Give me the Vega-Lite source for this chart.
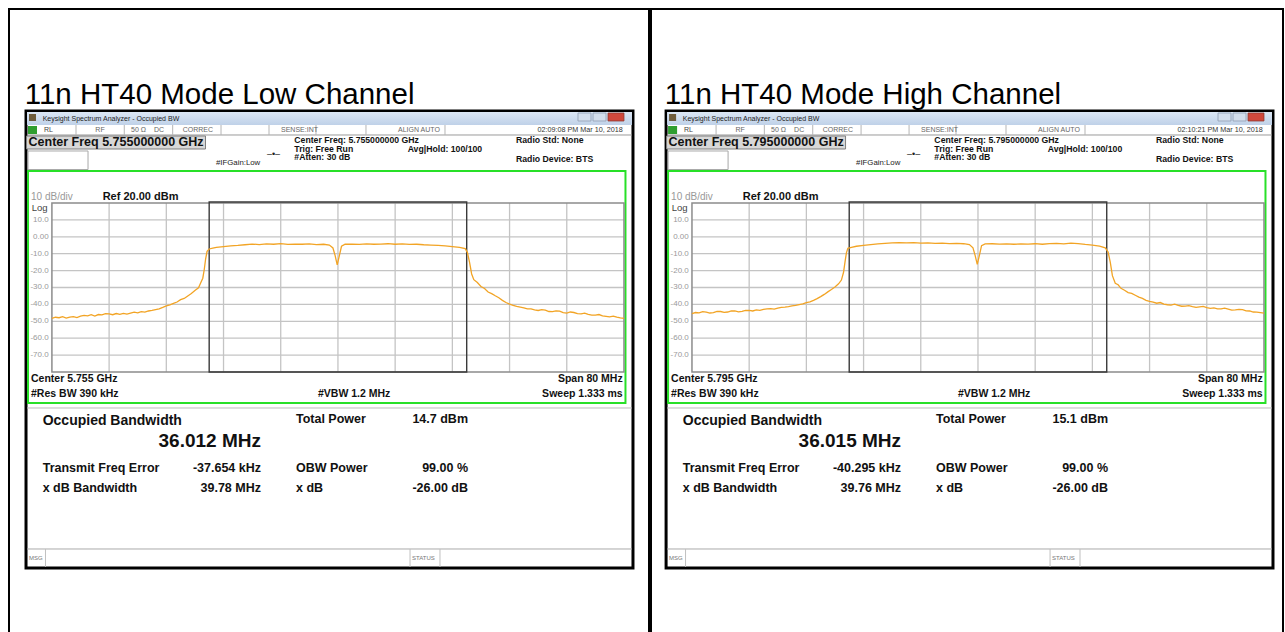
{
"$schema": "https://vega.github.io/schema/vega-lite/v6.json",
"padding": {"left": 8, "top": 8, "right": 5, "bottom": 0},
"spacing": 0,
"config": {"view": {"stroke": "#000", "strokeWidth": 2}, "axis": {"disable": true}, "font": "Liberation Sans", "mark": {"clip": false}},
"datasets": {
 "one": [{}],
 "low": [
  {"freq":5715,"db":-48.3},{"freq":5715.5,"db":-47.6},{"freq":5716,"db":-47.9},{"freq":5716.5,"db":-47.3},{"freq":5717,"db":-48.1},{"freq":5717.5,"db":-47.5},{"freq":5718,"db":-47.2},{"freq":5718.5,"db":-47.8},{"freq":5719,"db":-47.0},{"freq":5719.5,"db":-46.5},{"freq":5720,"db":-46.8},{"freq":5720.5,"db":-46.1},{"freq":5721,"db":-46.9},{"freq":5721.5,"db":-46.0},{"freq":5722,"db":-46.2},{"freq":5722.5,"db":-45.5},{"freq":5723,"db":-45.6},{"freq":5723.5,"db":-46.1},{"freq":5724,"db":-45.4},{"freq":5724.5,"db":-45.9},{"freq":5725,"db":-45.3},{"freq":5725.5,"db":-45.8},{"freq":5726,"db":-45.2},{"freq":5726.5,"db":-44.6},{"freq":5727,"db":-45.0},{"freq":5727.5,"db":-44.3},{"freq":5728,"db":-44.6},{"freq":5728.5,"db":-43.9},{"freq":5729,"db":-43.6},{"freq":5729.5,"db":-43.1},{"freq":5730,"db":-42.6},{"freq":5730.5,"db":-41.8},{"freq":5731,"db":-40.9},{"freq":5731.5,"db":-40.3},{"freq":5732,"db":-39.4},{"freq":5732.5,"db":-38.6},{"freq":5733,"db":-37.2},{"freq":5733.5,"db":-36.5},{"freq":5734,"db":-35.0},{"freq":5734.5,"db":-33.6},{"freq":5735,"db":-31.8},{"freq":5735.5,"db":-30.2},{"freq":5735.8,"db":-27.4},{"freq":5736.1,"db":-24.5},{"freq":5736.3,"db":-19.5},{"freq":5736.5,"db":-13.0},{"freq":5736.7,"db":-8.6},{"freq":5737,"db":-7.2},{"freq":5737.5,"db":-6.7},{"freq":5738,"db":-6.2},{"freq":5739,"db":-5.8},{"freq":5740,"db":-5.4},{"freq":5741,"db":-5.1},{"freq":5742,"db":-4.7},{"freq":5743,"db":-4.3},{"freq":5744,"db":-4.6},{"freq":5745,"db":-4.2},{"freq":5746,"db":-4.4},{"freq":5747,"db":-4.1},{"freq":5748,"db":-4.5},{"freq":5749,"db":-4.3},{"freq":5750,"db":-4.4},{"freq":5751,"db":-4.2},{"freq":5752,"db":-4.6},{"freq":5753,"db":-4.4},{"freq":5753.8,"db":-4.9},{"freq":5754.3,"db":-6.6},{"freq":5754.6,"db":-11.0},{"freq":5754.9,"db":-16.6},{"freq":5755.2,"db":-11.2},{"freq":5755.5,"db":-5.6},{"freq":5756,"db":-4.4},{"freq":5757,"db":-4.3},{"freq":5758,"db":-4.5},{"freq":5759,"db":-4.2},{"freq":5760,"db":-4.4},{"freq":5761,"db":-4.3},{"freq":5762,"db":-4.1},{"freq":5763,"db":-4.4},{"freq":5764,"db":-4.2},{"freq":5765,"db":-4.5},{"freq":5766,"db":-4.4},{"freq":5767,"db":-4.7},{"freq":5768,"db":-4.9},{"freq":5769,"db":-5.1},{"freq":5770,"db":-5.4},{"freq":5771,"db":-5.8},{"freq":5772,"db":-6.3},{"freq":5772.8,"db":-7.0},{"freq":5773.1,"db":-9.2},{"freq":5773.4,"db":-15.0},{"freq":5773.7,"db":-22.0},{"freq":5774,"db":-25.4},{"freq":5774.5,"db":-27.1},{"freq":5775,"db":-29.4},{"freq":5775.5,"db":-30.6},{"freq":5776,"db":-32.7},{"freq":5776.5,"db":-33.6},{"freq":5777,"db":-34.9},{"freq":5777.5,"db":-36.1},{"freq":5778,"db":-37.6},{"freq":5778.5,"db":-38.9},{"freq":5779,"db":-39.8},{"freq":5779.5,"db":-40.6},{"freq":5780,"db":-41.2},{"freq":5780.5,"db":-41.6},{"freq":5781,"db":-42.0},{"freq":5781.5,"db":-42.7},{"freq":5782,"db":-42.6},{"freq":5782.5,"db":-43.3},{"freq":5783,"db":-43.6},{"freq":5783.5,"db":-43.1},{"freq":5784,"db":-43.4},{"freq":5784.5,"db":-44.2},{"freq":5785,"db":-44.3},{"freq":5785.5,"db":-43.8},{"freq":5786,"db":-44.0},{"freq":5786.5,"db":-44.9},{"freq":5787,"db":-45.2},{"freq":5787.5,"db":-44.5},{"freq":5788,"db":-44.8},{"freq":5788.5,"db":-45.4},{"freq":5789,"db":-45.6},{"freq":5789.5,"db":-45.2},{"freq":5790,"db":-45.9},{"freq":5790.5,"db":-46.4},{"freq":5791,"db":-46.3},{"freq":5791.5,"db":-46.0},{"freq":5792,"db":-46.8},{"freq":5792.5,"db":-47.1},{"freq":5793,"db":-47.4},{"freq":5793.5,"db":-47.0},{"freq":5794,"db":-47.6},{"freq":5794.5,"db":-48.0},{"freq":5795,"db":-48.3}
 ],
 "high": [
  {"freq":5755,"db":-45.4},{"freq":5755.5,"db":-44.8},{"freq":5756,"db":-45.0},{"freq":5756.5,"db":-44.3},{"freq":5757,"db":-44.6},{"freq":5757.5,"db":-45.1},{"freq":5758,"db":-44.9},{"freq":5758.5,"db":-44.1},{"freq":5759,"db":-44.2},{"freq":5759.5,"db":-44.7},{"freq":5760,"db":-44.5},{"freq":5760.5,"db":-43.8},{"freq":5761,"db":-43.9},{"freq":5761.5,"db":-44.4},{"freq":5762,"db":-44.1},{"freq":5762.5,"db":-43.5},{"freq":5763,"db":-43.6},{"freq":5763.5,"db":-43.9},{"freq":5764,"db":-43.2},{"freq":5764.5,"db":-43.5},{"freq":5765,"db":-42.9},{"freq":5765.5,"db":-42.6},{"freq":5766,"db":-42.5},{"freq":5766.5,"db":-42.8},{"freq":5767,"db":-42.2},{"freq":5767.5,"db":-41.8},{"freq":5768,"db":-41.6},{"freq":5768.5,"db":-41.3},{"freq":5769,"db":-40.9},{"freq":5769.5,"db":-40.6},{"freq":5770,"db":-40.1},{"freq":5770.5,"db":-39.7},{"freq":5771,"db":-39.0},{"freq":5771.5,"db":-38.5},{"freq":5772,"db":-37.6},{"freq":5772.5,"db":-36.6},{"freq":5773,"db":-35.4},{"freq":5773.5,"db":-34.1},{"freq":5774,"db":-32.6},{"freq":5774.5,"db":-31.2},{"freq":5775,"db":-29.7},{"freq":5775.5,"db":-27.8},{"freq":5775.9,"db":-25.6},{"freq":5776.2,"db":-21.0},{"freq":5776.4,"db":-15.0},{"freq":5776.6,"db":-9.5},{"freq":5776.8,"db":-6.8},{"freq":5777.3,"db":-6.2},{"freq":5778,"db":-5.6},{"freq":5779,"db":-5.1},{"freq":5780,"db":-4.6},{"freq":5781,"db":-4.2},{"freq":5782,"db":-3.9},{"freq":5783,"db":-3.6},{"freq":5784,"db":-3.4},{"freq":5785,"db":-3.6},{"freq":5786,"db":-3.5},{"freq":5787,"db":-3.8},{"freq":5788,"db":-3.6},{"freq":5789,"db":-3.9},{"freq":5790,"db":-3.8},{"freq":5791,"db":-4.0},{"freq":5792,"db":-3.9},{"freq":5793,"db":-4.1},{"freq":5793.8,"db":-4.6},{"freq":5794.3,"db":-6.5},{"freq":5794.6,"db":-11.0},{"freq":5794.9,"db":-16.3},{"freq":5795.2,"db":-11.0},{"freq":5795.5,"db":-5.2},{"freq":5796,"db":-4.2},{"freq":5797,"db":-4.1},{"freq":5798,"db":-4.3},{"freq":5799,"db":-4.2},{"freq":5800,"db":-4.4},{"freq":5801,"db":-4.2},{"freq":5802,"db":-4.3},{"freq":5803,"db":-4.1},{"freq":5804,"db":-4.4},{"freq":5805,"db":-4.0},{"freq":5806,"db":-3.9},{"freq":5807,"db":-4.2},{"freq":5808,"db":-3.8},{"freq":5809,"db":-4.0},{"freq":5810,"db":-4.5},{"freq":5811,"db":-4.9},{"freq":5812,"db":-5.5},{"freq":5812.8,"db":-6.5},{"freq":5813.2,"db":-9.0},{"freq":5813.5,"db":-15.0},{"freq":5813.8,"db":-23.0},{"freq":5814.2,"db":-27.5},{"freq":5814.6,"db":-28.4},{"freq":5815,"db":-30.5},{"freq":5815.5,"db":-31.6},{"freq":5816,"db":-33.0},{"freq":5816.5,"db":-33.5},{"freq":5817,"db":-34.6},{"freq":5817.5,"db":-35.7},{"freq":5818,"db":-36.4},{"freq":5818.5,"db":-37.6},{"freq":5819,"db":-38.2},{"freq":5819.5,"db":-38.6},{"freq":5820,"db":-39.3},{"freq":5820.5,"db":-38.9},{"freq":5821,"db":-39.8},{"freq":5821.5,"db":-40.2},{"freq":5822,"db":-40.4},{"freq":5822.5,"db":-39.9},{"freq":5823,"db":-40.6},{"freq":5823.5,"db":-41.1},{"freq":5824,"db":-41.0},{"freq":5824.5,"db":-40.7},{"freq":5825,"db":-41.3},{"freq":5825.5,"db":-41.8},{"freq":5826,"db":-41.5},{"freq":5826.5,"db":-41.2},{"freq":5827,"db":-41.9},{"freq":5827.5,"db":-42.3},{"freq":5828,"db":-42.1},{"freq":5828.5,"db":-42.7},{"freq":5829,"db":-42.6},{"freq":5829.5,"db":-42.2},{"freq":5830,"db":-42.8},{"freq":5830.5,"db":-43.4},{"freq":5831,"db":-43.3},{"freq":5831.5,"db":-42.9},{"freq":5832,"db":-43.1},{"freq":5832.5,"db":-43.8},{"freq":5833,"db":-43.9},{"freq":5833.5,"db":-44.5},{"freq":5834,"db":-44.6},{"freq":5834.5,"db":-44.9},{"freq":5835,"db":-45.2}
 ],
 "hgrid": [{"db":10},{"db":0},{"db":-10},{"db":-20},{"db":-30},{"db":-40},{"db":-50},{"db":-60},{"db":-70}],
 "vgridLow": [{"freq":5723},{"freq":5731},{"freq":5739},{"freq":5747},{"freq":5755},{"freq":5763},{"freq":5771},{"freq":5779},{"freq":5787}],
 "vgridHigh": [{"freq":5763},{"freq":5771},{"freq":5779},{"freq":5787},{"freq":5795},{"freq":5803},{"freq":5811},{"freq":5819},{"freq":5827}],
 "ylabels": [{"db":10,"label":"10.0"},{"db":0,"label":"0.00"},{"db":-10,"label":"-10.0"},{"db":-20,"label":"-20.0"},{"db":-30,"label":"-30.0"},{"db":-40,"label":"-40.0"},{"db":-50,"label":"-50.0"},{"db":-60,"label":"-60.0"},{"db":-70,"label":"-70.0"}]
},
"hconcat": [
 {
  "width": 640, "height": 625,
  "data": {"name": "one"},
  "layer": [
   {"mark":{"type":"rect","fill":"#ffffff","stroke":"#000000","strokeWidth":3},"encoding":{"x":{"datum":5711.38,"scale":{"domain":[5709,5798.5],"nice":false,"zero":false}},"x2":{"datum":5796.26},"y":{"datum":74.44,"scale":{"domain":[-235.03,134.79],"nice":false,"zero":false}},"y2":{"datum":-195.98}}},
   {"mark":{"type":"text","text":"11n HT40 Mode Low Channel","align":"left","baseline":"middle","fontSize":29.5,"fill":"#000"},"encoding":{"x":{"datum":5711.2},"y":{"datum":83.91}}},
   {"mark":{"type":"rect","fill":{"gradient":"linear","x1":0,"y1":0,"x2":0,"y2":1,"stops":[{"offset":0,"color":"#dce7f5"},{"offset":1,"color":"#bfd1e8"}]}},"encoding":{"x":{"datum":5711.52},"x2":{"datum":5796.12},"y":{"datum":73.85},"y2":{"datum":66.15}}},
   {"mark":{"type":"rect","fill":"#6d5b3b"},"encoding":{"x":{"datum":5711.8},"x2":{"datum":5712.78},"y":{"datum":72.66},"y2":{"datum":68.52}}},
   {"mark":{"type":"text","text":"Keysight Spectrum Analyzer - Occupied BW","align":"left","baseline":"middle","fontSize":7,"fill":"#222"},"encoding":{"x":{"datum":5713.71},"y":{"datum":69.7}}},
   {"mark":{"type":"rect","fill":"#d3deec","stroke":"#8e9db3","strokeWidth":0.8},"encoding":{"x":{"datum":5788.57},"x2":{"datum":5790.39},"y":{"datum":73.25},"y2":{"datum":68.52}}},
   {"mark":{"type":"rect","fill":"#d3deec","stroke":"#8e9db3","strokeWidth":0.8},"encoding":{"x":{"datum":5790.67},"x2":{"datum":5792.49},"y":{"datum":73.25},"y2":{"datum":68.52}}},
   {"mark":{"type":"rect","fill":"#d0483c","stroke":"#8e3a30","strokeWidth":0.8},"encoding":{"x":{"datum":5792.77},"x2":{"datum":5795.0},"y":{"datum":73.25},"y2":{"datum":68.52}}},
   {"mark":{"type":"rule","color":"#9a9a9a","strokeWidth":1},"encoding":{"x":{"datum":5711.52},"x2":{"datum":5796.12},"y":{"datum":60.24}}},
   {"mark":{"type":"rule","color":"#b5b5b5","strokeWidth":1},"encoding":{"x":{"datum":5718.37},"y":{"datum":66.15},"y2":{"datum":60.24}}},
   {"mark":{"type":"rule","color":"#b5b5b5","strokeWidth":1},"encoding":{"x":{"datum":5725.12},"y":{"datum":66.15},"y2":{"datum":60.24}}},
   {"mark":{"type":"rule","color":"#b5b5b5","strokeWidth":1},"encoding":{"x":{"datum":5731.89},"y":{"datum":66.15},"y2":{"datum":60.24}}},
   {"mark":{"type":"rule","color":"#b5b5b5","strokeWidth":1},"encoding":{"x":{"datum":5738.65},"y":{"datum":66.15},"y2":{"datum":60.24}}},
   {"mark":{"type":"rule","color":"#b5b5b5","strokeWidth":1},"encoding":{"x":{"datum":5745.36},"y":{"datum":66.15},"y2":{"datum":60.24}}},
   {"mark":{"type":"rule","color":"#b5b5b5","strokeWidth":1},"encoding":{"x":{"datum":5751.93},"y":{"datum":66.15},"y2":{"datum":60.24}}},
   {"mark":{"type":"rule","color":"#b5b5b5","strokeWidth":1},"encoding":{"x":{"datum":5758.92},"y":{"datum":66.15},"y2":{"datum":60.24}}},
   {"mark":{"type":"rule","color":"#b5b5b5","strokeWidth":1},"encoding":{"x":{"datum":5769.97},"y":{"datum":66.15},"y2":{"datum":60.24}}},
   {"mark":{"type":"rect","fill":"#2f9e2f"},"encoding":{"x":{"datum":5711.66},"x2":{"datum":5712.92},"y":{"datum":65.56},"y2":{"datum":60.83}}},
   {"mark":{"type":"text","text":"RL","align":"left","baseline":"middle","fontSize":7,"fill":"#444"},"encoding":{"x":{"datum":5713.89},"y":{"datum":63.2}}},
   {"mark":{"type":"text","text":"RF","align":"center","baseline":"middle","fontSize":7,"fill":"#666"},"encoding":{"x":{"datum":5721.73},"y":{"datum":63.2}}},
   {"mark":{"type":"text","text":"50 Ω","align":"left","baseline":"middle","fontSize":7,"fill":"#666"},"encoding":{"x":{"datum":5726.06},"y":{"datum":63.2}}},
   {"mark":{"type":"text","text":"DC","align":"left","baseline":"middle","fontSize":7,"fill":"#666"},"encoding":{"x":{"datum":5729.28},"y":{"datum":63.2}}},
   {"mark":{"type":"text","text":"CORREC","align":"left","baseline":"middle","fontSize":7,"fill":"#666"},"encoding":{"x":{"datum":5733.29},"y":{"datum":63.2}}},
   {"mark":{"type":"text","text":"SENSE:INT","align":"left","baseline":"middle","fontSize":7,"fill":"#666"},"encoding":{"x":{"datum":5747.04},"y":{"datum":63.2}}},
   {"mark":{"type":"text","text":"ALIGN AUTO","align":"left","baseline":"middle","fontSize":7,"fill":"#666"},"encoding":{"x":{"datum":5763.4},"y":{"datum":63.2}}},
   {"mark":{"type":"text","text":"02:09:08 PM Mar 10, 2018","align":"right","baseline":"middle","fontSize":7.2,"fill":"#333"},"encoding":{"x":{"datum":5794.82},"y":{"datum":63.2}}},
   {"mark":{"type":"rect","fill":"#d8d8d8","stroke":"#7f7f7f","strokeWidth":1},"encoding":{"x":{"datum":5711.45},"x2":{"datum":5736.48},"y":{"datum":59.64},"y2":{"datum":51.95}}},
   {"mark":{"type":"text","text":"Center Freq 5.755000000 GHz","align":"left","baseline":"middle","fontSize":12.5,"fontWeight":"bold","fill":"#111"},"encoding":{"x":{"datum":5711.73},"y":{"datum":55.8}}},
   {"mark":{"type":"rect","fill":"#ffffff","stroke":"#a8a8a8","strokeWidth":1},"encoding":{"x":{"datum":5711.66},"x2":{"datum":5720.05},"y":{"datum":50.77},"y2":{"datum":39.8}}},
   {"mark":{"type":"text","text":"#IFGain:Low","align":"left","baseline":"middle","fontSize":7.8,"fill":"#222"},"encoding":{"x":{"datum":5737.95},"y":{"datum":43.49}}},
   {"mark":{"type":"text","text":"–•–","align":"center","baseline":"middle","fontSize":9,"fill":"#222"},"encoding":{"x":{"datum":5745.99},"y":{"datum":48.82}}},
   {"mark":{"type":"text","text":"Center Freq: 5.755000000 GHz","align":"left","baseline":"middle","fontSize":8.7,"fontWeight":"bold","fill":"#111"},"encoding":{"x":{"datum":5748.9},"y":{"datum":57.1}}},
   {"mark":{"type":"text","text":"Trig: Free Run","align":"left","baseline":"middle","fontSize":8.7,"fontWeight":"bold","fill":"#111"},"encoding":{"x":{"datum":5748.9},"y":{"datum":52.13}}},
   {"mark":{"type":"text","text":"#Atten: 30 dB","align":"left","baseline":"middle","fontSize":8.7,"fontWeight":"bold","fill":"#111"},"encoding":{"x":{"datum":5748.9},"y":{"datum":47.22}}},
   {"mark":{"type":"text","text":"Avg|Hold: 100/100","align":"left","baseline":"middle","fontSize":8.7,"fontWeight":"bold","fill":"#111"},"encoding":{"x":{"datum":5764.75},"y":{"datum":52.13}}},
   {"mark":{"type":"text","text":"Radio Std: None","align":"left","baseline":"middle","fontSize":8.7,"fontWeight":"bold","fill":"#111"},"encoding":{"x":{"datum":5779.9},"y":{"datum":57.1}}},
   {"mark":{"type":"text","text":"Radio Device: BTS","align":"left","baseline":"middle","fontSize":8.7,"fontWeight":"bold","fill":"#111"},"encoding":{"x":{"datum":5779.9},"y":{"datum":45.86}}},
   {"mark":{"type":"rect","fill":null,"stroke":"#28e028","strokeWidth":2},"encoding":{"x":{"datum":5711.66},"x2":{"datum":5795.21},"y":{"datum":38.93},"y2":{"datum":-98.34}}},
   {"mark":{"type":"text","text":"10 dB/div","align":"left","baseline":"middle","fontSize":10,"fill":"#999"},"encoding":{"x":{"datum":5712.08},"y":{"datum":23.73}}},
   {"mark":{"type":"text","text":"Ref 20.00 dBm","align":"left","baseline":"middle","fontSize":11,"fontWeight":"bold","fill":"#111"},"encoding":{"x":{"datum":5722.1},"y":{"datum":23.73}}},
   {"data":{"name":"hgrid"},"mark":{"type":"rule","color":"#c4c4c4","strokeWidth":1.3},"encoding":{"y":{"field":"db","type":"quantitative"},"x":{"datum":5715},"x2":{"datum":5795}}},
   {"data":{"name":"vgridLow"},"mark":{"type":"rule","color":"#c4c4c4","strokeWidth":1.3},"encoding":{"x":{"field":"freq","type":"quantitative"},"y":{"datum":20},"y2":{"datum":-80}}},
   {"mark":{"type":"rect","fill":null,"stroke":"#8c8c8c","strokeWidth":1.5},"encoding":{"x":{"datum":5715},"x2":{"datum":5795},"y":{"datum":20},"y2":{"datum":-80}}},
   {"mark":{"type":"rect","fill":null,"stroke":"#3a3a3a","strokeWidth":1.4},"encoding":{"x":{"datum":5736.994},"x2":{"datum":5773.006},"y":{"datum":20.59},"y2":{"datum":-80}}},
   {"data":{"name":"low"},"mark":{"type":"line","color":"#f2a425","strokeWidth":1.3},"encoding":{"x":{"field":"freq","type":"quantitative"},"y":{"field":"db","type":"quantitative"}}},
   {"data":{"name":"ylabels"},"mark":{"type":"text","align":"right","baseline":"middle","fontSize":8,"fill":"#9a9a9a"},"encoding":{"y":{"field":"db","type":"quantitative"},"x":{"datum":5714.55},"text":{"field":"label"}}},
   {"mark":{"type":"text","text":"Log","align":"left","baseline":"middle","fontSize":9.5,"fill":"#444"},"encoding":{"x":{"datum":5712.17},"y":{"datum":17.22}}},
   {"mark":{"type":"text","text":"Center  5.755 GHz","align":"left","baseline":"middle","fontSize":10.5,"fontWeight":"bold","fill":"#111"},"encoding":{"x":{"datum":5712.08},"y":{"datum":-84.32}}},
   {"mark":{"type":"text","text":"#Res BW  390 kHz","align":"left","baseline":"middle","fontSize":10.5,"fontWeight":"bold","fill":"#111"},"encoding":{"x":{"datum":5712.08},"y":{"datum":-93.2}}},
   {"mark":{"type":"text","text":"#VBW  1.2 MHz","align":"left","baseline":"middle","fontSize":10.5,"fontWeight":"bold","fill":"#111"},"encoding":{"x":{"datum":5752.21},"y":{"datum":-93.2}}},
   {"mark":{"type":"text","text":"Span 80 MHz","align":"right","baseline":"middle","fontSize":10.5,"fontWeight":"bold","fill":"#111"},"encoding":{"x":{"datum":5794.82},"y":{"datum":-84.32}}},
   {"mark":{"type":"text","text":"Sweep  1.333 ms","align":"right","baseline":"middle","fontSize":10.5,"fontWeight":"bold","fill":"#111"},"encoding":{"x":{"datum":5794.82},"y":{"datum":-93.2}}},
   {"mark":{"type":"rule","color":"#bbbbbb","strokeWidth":1},"encoding":{"x":{"datum":5711.52},"x2":{"datum":5796.12},"y":{"datum":-101.3}}},
   {"mark":{"type":"text","text":"Occupied Bandwidth","align":"left","baseline":"middle","fontSize":14,"fontWeight":"bold","fill":"#111"},"encoding":{"x":{"datum":5713.71},"y":{"datum":-109.0}}},
   {"mark":{"type":"text","text":"36.012 MHz","align":"right","baseline":"middle","fontSize":19,"fontWeight":"bold","fill":"#111"},"encoding":{"x":{"datum":5744.24},"y":{"datum":-120.83}}},
   {"mark":{"type":"text","text":"Total Power","align":"left","baseline":"middle","fontSize":12.5,"fontWeight":"bold","fill":"#111"},"encoding":{"x":{"datum":5749.13},"y":{"datum":-107.99}}},
   {"mark":{"type":"text","text":"14.7 dBm","align":"right","baseline":"middle","fontSize":12.5,"fontWeight":"bold","fill":"#111"},"encoding":{"x":{"datum":5773.19},"y":{"datum":-107.99}}},
   {"mark":{"type":"text","text":"Transmit Freq Error","align":"left","baseline":"middle","fontSize":12.5,"fontWeight":"bold","fill":"#111"},"encoding":{"x":{"datum":5713.71},"y":{"datum":-136.63}}},
   {"mark":{"type":"text","text":"-37.654 kHz","align":"right","baseline":"middle","fontSize":12.5,"fontWeight":"bold","fill":"#111"},"encoding":{"x":{"datum":5744.24},"y":{"datum":-136.63}}},
   {"mark":{"type":"text","text":"OBW Power","align":"left","baseline":"middle","fontSize":12.5,"fontWeight":"bold","fill":"#111"},"encoding":{"x":{"datum":5749.13},"y":{"datum":-136.63}}},
   {"mark":{"type":"text","text":"99.00 %","align":"right","baseline":"middle","fontSize":12.5,"fontWeight":"bold","fill":"#111"},"encoding":{"x":{"datum":5773.19},"y":{"datum":-136.63}}},
   {"mark":{"type":"text","text":"x dB Bandwidth","align":"left","baseline":"middle","fontSize":12.5,"fontWeight":"bold","fill":"#111"},"encoding":{"x":{"datum":5713.71},"y":{"datum":-148.46}}},
   {"mark":{"type":"text","text":"39.78 MHz","align":"right","baseline":"middle","fontSize":12.5,"fontWeight":"bold","fill":"#111"},"encoding":{"x":{"datum":5744.24},"y":{"datum":-148.46}}},
   {"mark":{"type":"text","text":"x dB","align":"left","baseline":"middle","fontSize":12.5,"fontWeight":"bold","fill":"#111"},"encoding":{"x":{"datum":5749.13},"y":{"datum":-148.46}}},
   {"mark":{"type":"text","text":"-26.00 dB","align":"right","baseline":"middle","fontSize":12.5,"fontWeight":"bold","fill":"#111"},"encoding":{"x":{"datum":5773.19},"y":{"datum":-148.46}}},
   {"mark":{"type":"rule","color":"#aaaaaa","strokeWidth":1},"encoding":{"x":{"datum":5711.52},"x2":{"datum":5796.12},"y":{"datum":-184.73}}},
   {"mark":{"type":"rule","color":"#c0c0c0","strokeWidth":1},"encoding":{"x":{"datum":5714.1},"y":{"datum":-184.73},"y2":{"datum":-195.38}}},
   {"mark":{"type":"rule","color":"#c0c0c0","strokeWidth":1},"encoding":{"x":{"datum":5765.08},"y":{"datum":-184.73},"y2":{"datum":-195.38}}},
   {"mark":{"type":"rule","color":"#c0c0c0","strokeWidth":1},"encoding":{"x":{"datum":5769.27},"y":{"datum":-184.73},"y2":{"datum":-195.38}}},
   {"mark":{"type":"text","text":"MSG","align":"left","baseline":"middle","fontSize":6,"fill":"#777"},"encoding":{"x":{"datum":5711.8},"y":{"datum":-190.06}}},
   {"mark":{"type":"text","text":"STATUS","align":"left","baseline":"middle","fontSize":6,"fill":"#777"},"encoding":{"x":{"datum":5765.36},"y":{"datum":-190.06}}}
  ]
 },
 {
  "width": 632, "height": 625,
  "data": {"name": "one"},
  "layer": [
   {"mark":{"type":"rect","fill":"#ffffff","stroke":"#000000","strokeWidth":3},"encoding":{"x":{"datum":5751.38,"scale":{"domain":[5749.27,5837.66],"nice":false,"zero":false}},"x2":{"datum":5836.26},"y":{"datum":74.44,"scale":{"domain":[-235.03,134.79],"nice":false,"zero":false}},"y2":{"datum":-195.98}}},
   {"mark":{"type":"text","text":"11n HT40 Mode High Channel","align":"left","baseline":"middle","fontSize":29.5,"fill":"#000"},"encoding":{"x":{"datum":5751.2},"y":{"datum":83.91}}},
   {"mark":{"type":"rect","fill":{"gradient":"linear","x1":0,"y1":0,"x2":0,"y2":1,"stops":[{"offset":0,"color":"#dce7f5"},{"offset":1,"color":"#bfd1e8"}]}},"encoding":{"x":{"datum":5751.52},"x2":{"datum":5836.12},"y":{"datum":73.85},"y2":{"datum":66.15}}},
   {"mark":{"type":"rect","fill":"#6d5b3b"},"encoding":{"x":{"datum":5751.8},"x2":{"datum":5752.78},"y":{"datum":72.66},"y2":{"datum":68.52}}},
   {"mark":{"type":"text","text":"Keysight Spectrum Analyzer - Occupied BW","align":"left","baseline":"middle","fontSize":7,"fill":"#222"},"encoding":{"x":{"datum":5753.71},"y":{"datum":69.7}}},
   {"mark":{"type":"rect","fill":"#d3deec","stroke":"#8e9db3","strokeWidth":0.8},"encoding":{"x":{"datum":5828.57},"x2":{"datum":5830.39},"y":{"datum":73.25},"y2":{"datum":68.52}}},
   {"mark":{"type":"rect","fill":"#d3deec","stroke":"#8e9db3","strokeWidth":0.8},"encoding":{"x":{"datum":5830.67},"x2":{"datum":5832.49},"y":{"datum":73.25},"y2":{"datum":68.52}}},
   {"mark":{"type":"rect","fill":"#d0483c","stroke":"#8e3a30","strokeWidth":0.8},"encoding":{"x":{"datum":5832.77},"x2":{"datum":5835.0},"y":{"datum":73.25},"y2":{"datum":68.52}}},
   {"mark":{"type":"rule","color":"#9a9a9a","strokeWidth":1},"encoding":{"x":{"datum":5751.52},"x2":{"datum":5836.12},"y":{"datum":60.24}}},
   {"mark":{"type":"rule","color":"#b5b5b5","strokeWidth":1},"encoding":{"x":{"datum":5758.37},"y":{"datum":66.15},"y2":{"datum":60.24}}},
   {"mark":{"type":"rule","color":"#b5b5b5","strokeWidth":1},"encoding":{"x":{"datum":5765.12},"y":{"datum":66.15},"y2":{"datum":60.24}}},
   {"mark":{"type":"rule","color":"#b5b5b5","strokeWidth":1},"encoding":{"x":{"datum":5771.89},"y":{"datum":66.15},"y2":{"datum":60.24}}},
   {"mark":{"type":"rule","color":"#b5b5b5","strokeWidth":1},"encoding":{"x":{"datum":5778.65},"y":{"datum":66.15},"y2":{"datum":60.24}}},
   {"mark":{"type":"rule","color":"#b5b5b5","strokeWidth":1},"encoding":{"x":{"datum":5785.36},"y":{"datum":66.15},"y2":{"datum":60.24}}},
   {"mark":{"type":"rule","color":"#b5b5b5","strokeWidth":1},"encoding":{"x":{"datum":5791.93},"y":{"datum":66.15},"y2":{"datum":60.24}}},
   {"mark":{"type":"rule","color":"#b5b5b5","strokeWidth":1},"encoding":{"x":{"datum":5798.92},"y":{"datum":66.15},"y2":{"datum":60.24}}},
   {"mark":{"type":"rule","color":"#b5b5b5","strokeWidth":1},"encoding":{"x":{"datum":5809.97},"y":{"datum":66.15},"y2":{"datum":60.24}}},
   {"mark":{"type":"rect","fill":"#2f9e2f"},"encoding":{"x":{"datum":5751.66},"x2":{"datum":5752.92},"y":{"datum":65.56},"y2":{"datum":60.83}}},
   {"mark":{"type":"text","text":"RL","align":"left","baseline":"middle","fontSize":7,"fill":"#444"},"encoding":{"x":{"datum":5753.89},"y":{"datum":63.2}}},
   {"mark":{"type":"text","text":"RF","align":"center","baseline":"middle","fontSize":7,"fill":"#666"},"encoding":{"x":{"datum":5761.73},"y":{"datum":63.2}}},
   {"mark":{"type":"text","text":"50 Ω","align":"left","baseline":"middle","fontSize":7,"fill":"#666"},"encoding":{"x":{"datum":5766.06},"y":{"datum":63.2}}},
   {"mark":{"type":"text","text":"DC","align":"left","baseline":"middle","fontSize":7,"fill":"#666"},"encoding":{"x":{"datum":5769.28},"y":{"datum":63.2}}},
   {"mark":{"type":"text","text":"CORREC","align":"left","baseline":"middle","fontSize":7,"fill":"#666"},"encoding":{"x":{"datum":5773.29},"y":{"datum":63.2}}},
   {"mark":{"type":"text","text":"SENSE:INT","align":"left","baseline":"middle","fontSize":7,"fill":"#666"},"encoding":{"x":{"datum":5787.04},"y":{"datum":63.2}}},
   {"mark":{"type":"text","text":"ALIGN AUTO","align":"left","baseline":"middle","fontSize":7,"fill":"#666"},"encoding":{"x":{"datum":5803.4},"y":{"datum":63.2}}},
   {"mark":{"type":"text","text":"02:10:21 PM Mar 10, 2018","align":"right","baseline":"middle","fontSize":7.2,"fill":"#333"},"encoding":{"x":{"datum":5834.82},"y":{"datum":63.2}}},
   {"mark":{"type":"rect","fill":"#d8d8d8","stroke":"#7f7f7f","strokeWidth":1},"encoding":{"x":{"datum":5751.45},"x2":{"datum":5776.48},"y":{"datum":59.64},"y2":{"datum":51.95}}},
   {"mark":{"type":"text","text":"Center Freq 5.795000000 GHz","align":"left","baseline":"middle","fontSize":12.5,"fontWeight":"bold","fill":"#111"},"encoding":{"x":{"datum":5751.73},"y":{"datum":55.8}}},
   {"mark":{"type":"rect","fill":"#ffffff","stroke":"#a8a8a8","strokeWidth":1},"encoding":{"x":{"datum":5751.66},"x2":{"datum":5760.05},"y":{"datum":50.77},"y2":{"datum":39.8}}},
   {"mark":{"type":"text","text":"#IFGain:Low","align":"left","baseline":"middle","fontSize":7.8,"fill":"#222"},"encoding":{"x":{"datum":5777.95},"y":{"datum":43.49}}},
   {"mark":{"type":"text","text":"–•–","align":"center","baseline":"middle","fontSize":9,"fill":"#222"},"encoding":{"x":{"datum":5785.99},"y":{"datum":48.82}}},
   {"mark":{"type":"text","text":"Center Freq: 5.795000000 GHz","align":"left","baseline":"middle","fontSize":8.7,"fontWeight":"bold","fill":"#111"},"encoding":{"x":{"datum":5788.9},"y":{"datum":57.1}}},
   {"mark":{"type":"text","text":"Trig: Free Run","align":"left","baseline":"middle","fontSize":8.7,"fontWeight":"bold","fill":"#111"},"encoding":{"x":{"datum":5788.9},"y":{"datum":52.13}}},
   {"mark":{"type":"text","text":"#Atten: 30 dB","align":"left","baseline":"middle","fontSize":8.7,"fontWeight":"bold","fill":"#111"},"encoding":{"x":{"datum":5788.9},"y":{"datum":47.22}}},
   {"mark":{"type":"text","text":"Avg|Hold: 100/100","align":"left","baseline":"middle","fontSize":8.7,"fontWeight":"bold","fill":"#111"},"encoding":{"x":{"datum":5804.75},"y":{"datum":52.13}}},
   {"mark":{"type":"text","text":"Radio Std: None","align":"left","baseline":"middle","fontSize":8.7,"fontWeight":"bold","fill":"#111"},"encoding":{"x":{"datum":5819.9},"y":{"datum":57.1}}},
   {"mark":{"type":"text","text":"Radio Device: BTS","align":"left","baseline":"middle","fontSize":8.7,"fontWeight":"bold","fill":"#111"},"encoding":{"x":{"datum":5819.9},"y":{"datum":45.86}}},
   {"mark":{"type":"rect","fill":null,"stroke":"#28e028","strokeWidth":2},"encoding":{"x":{"datum":5751.66},"x2":{"datum":5835.21},"y":{"datum":38.93},"y2":{"datum":-98.34}}},
   {"mark":{"type":"text","text":"10 dB/div","align":"left","baseline":"middle","fontSize":10,"fill":"#999"},"encoding":{"x":{"datum":5752.08},"y":{"datum":23.73}}},
   {"mark":{"type":"text","text":"Ref 20.00 dBm","align":"left","baseline":"middle","fontSize":11,"fontWeight":"bold","fill":"#111"},"encoding":{"x":{"datum":5762.1},"y":{"datum":23.73}}},
   {"data":{"name":"hgrid"},"mark":{"type":"rule","color":"#c4c4c4","strokeWidth":1.3},"encoding":{"y":{"field":"db","type":"quantitative"},"x":{"datum":5755},"x2":{"datum":5835}}},
   {"data":{"name":"vgridHigh"},"mark":{"type":"rule","color":"#c4c4c4","strokeWidth":1.3},"encoding":{"x":{"field":"freq","type":"quantitative"},"y":{"datum":20},"y2":{"datum":-80}}},
   {"mark":{"type":"rect","fill":null,"stroke":"#8c8c8c","strokeWidth":1.5},"encoding":{"x":{"datum":5755},"x2":{"datum":5835},"y":{"datum":20},"y2":{"datum":-80}}},
   {"mark":{"type":"rect","fill":null,"stroke":"#3a3a3a","strokeWidth":1.4},"encoding":{"x":{"datum":5776.9925},"x2":{"datum":5813.0075},"y":{"datum":20.59},"y2":{"datum":-80}}},
   {"data":{"name":"high"},"mark":{"type":"line","color":"#f2a425","strokeWidth":1.3},"encoding":{"x":{"field":"freq","type":"quantitative"},"y":{"field":"db","type":"quantitative"}}},
   {"data":{"name":"ylabels"},"mark":{"type":"text","align":"right","baseline":"middle","fontSize":8,"fill":"#9a9a9a"},"encoding":{"y":{"field":"db","type":"quantitative"},"x":{"datum":5754.55},"text":{"field":"label"}}},
   {"mark":{"type":"text","text":"Log","align":"left","baseline":"middle","fontSize":9.5,"fill":"#444"},"encoding":{"x":{"datum":5752.17},"y":{"datum":17.22}}},
   {"mark":{"type":"text","text":"Center  5.795 GHz","align":"left","baseline":"middle","fontSize":10.5,"fontWeight":"bold","fill":"#111"},"encoding":{"x":{"datum":5752.08},"y":{"datum":-84.32}}},
   {"mark":{"type":"text","text":"#Res BW  390 kHz","align":"left","baseline":"middle","fontSize":10.5,"fontWeight":"bold","fill":"#111"},"encoding":{"x":{"datum":5752.08},"y":{"datum":-93.2}}},
   {"mark":{"type":"text","text":"#VBW  1.2 MHz","align":"left","baseline":"middle","fontSize":10.5,"fontWeight":"bold","fill":"#111"},"encoding":{"x":{"datum":5792.21},"y":{"datum":-93.2}}},
   {"mark":{"type":"text","text":"Span 80 MHz","align":"right","baseline":"middle","fontSize":10.5,"fontWeight":"bold","fill":"#111"},"encoding":{"x":{"datum":5834.82},"y":{"datum":-84.32}}},
   {"mark":{"type":"text","text":"Sweep  1.333 ms","align":"right","baseline":"middle","fontSize":10.5,"fontWeight":"bold","fill":"#111"},"encoding":{"x":{"datum":5834.82},"y":{"datum":-93.2}}},
   {"mark":{"type":"rule","color":"#bbbbbb","strokeWidth":1},"encoding":{"x":{"datum":5751.52},"x2":{"datum":5836.12},"y":{"datum":-101.3}}},
   {"mark":{"type":"text","text":"Occupied Bandwidth","align":"left","baseline":"middle","fontSize":14,"fontWeight":"bold","fill":"#111"},"encoding":{"x":{"datum":5753.71},"y":{"datum":-109.0}}},
   {"mark":{"type":"text","text":"36.015 MHz","align":"right","baseline":"middle","fontSize":19,"fontWeight":"bold","fill":"#111"},"encoding":{"x":{"datum":5784.24},"y":{"datum":-120.83}}},
   {"mark":{"type":"text","text":"Total Power","align":"left","baseline":"middle","fontSize":12.5,"fontWeight":"bold","fill":"#111"},"encoding":{"x":{"datum":5789.13},"y":{"datum":-107.99}}},
   {"mark":{"type":"text","text":"15.1 dBm","align":"right","baseline":"middle","fontSize":12.5,"fontWeight":"bold","fill":"#111"},"encoding":{"x":{"datum":5813.19},"y":{"datum":-107.99}}},
   {"mark":{"type":"text","text":"Transmit Freq Error","align":"left","baseline":"middle","fontSize":12.5,"fontWeight":"bold","fill":"#111"},"encoding":{"x":{"datum":5753.71},"y":{"datum":-136.63}}},
   {"mark":{"type":"text","text":"-40.295 kHz","align":"right","baseline":"middle","fontSize":12.5,"fontWeight":"bold","fill":"#111"},"encoding":{"x":{"datum":5784.24},"y":{"datum":-136.63}}},
   {"mark":{"type":"text","text":"OBW Power","align":"left","baseline":"middle","fontSize":12.5,"fontWeight":"bold","fill":"#111"},"encoding":{"x":{"datum":5789.13},"y":{"datum":-136.63}}},
   {"mark":{"type":"text","text":"99.00 %","align":"right","baseline":"middle","fontSize":12.5,"fontWeight":"bold","fill":"#111"},"encoding":{"x":{"datum":5813.19},"y":{"datum":-136.63}}},
   {"mark":{"type":"text","text":"x dB Bandwidth","align":"left","baseline":"middle","fontSize":12.5,"fontWeight":"bold","fill":"#111"},"encoding":{"x":{"datum":5753.71},"y":{"datum":-148.46}}},
   {"mark":{"type":"text","text":"39.76 MHz","align":"right","baseline":"middle","fontSize":12.5,"fontWeight":"bold","fill":"#111"},"encoding":{"x":{"datum":5784.24},"y":{"datum":-148.46}}},
   {"mark":{"type":"text","text":"x dB","align":"left","baseline":"middle","fontSize":12.5,"fontWeight":"bold","fill":"#111"},"encoding":{"x":{"datum":5789.13},"y":{"datum":-148.46}}},
   {"mark":{"type":"text","text":"-26.00 dB","align":"right","baseline":"middle","fontSize":12.5,"fontWeight":"bold","fill":"#111"},"encoding":{"x":{"datum":5813.19},"y":{"datum":-148.46}}},
   {"mark":{"type":"rule","color":"#aaaaaa","strokeWidth":1},"encoding":{"x":{"datum":5751.52},"x2":{"datum":5836.12},"y":{"datum":-184.73}}},
   {"mark":{"type":"rule","color":"#c0c0c0","strokeWidth":1},"encoding":{"x":{"datum":5754.1},"y":{"datum":-184.73},"y2":{"datum":-195.38}}},
   {"mark":{"type":"rule","color":"#c0c0c0","strokeWidth":1},"encoding":{"x":{"datum":5805.08},"y":{"datum":-184.73},"y2":{"datum":-195.38}}},
   {"mark":{"type":"rule","color":"#c0c0c0","strokeWidth":1},"encoding":{"x":{"datum":5809.27},"y":{"datum":-184.73},"y2":{"datum":-195.38}}},
   {"mark":{"type":"text","text":"MSG","align":"left","baseline":"middle","fontSize":6,"fill":"#777"},"encoding":{"x":{"datum":5751.8},"y":{"datum":-190.06}}},
   {"mark":{"type":"text","text":"STATUS","align":"left","baseline":"middle","fontSize":6,"fill":"#777"},"encoding":{"x":{"datum":5805.36},"y":{"datum":-190.06}}}
  ]
 }
]
}
